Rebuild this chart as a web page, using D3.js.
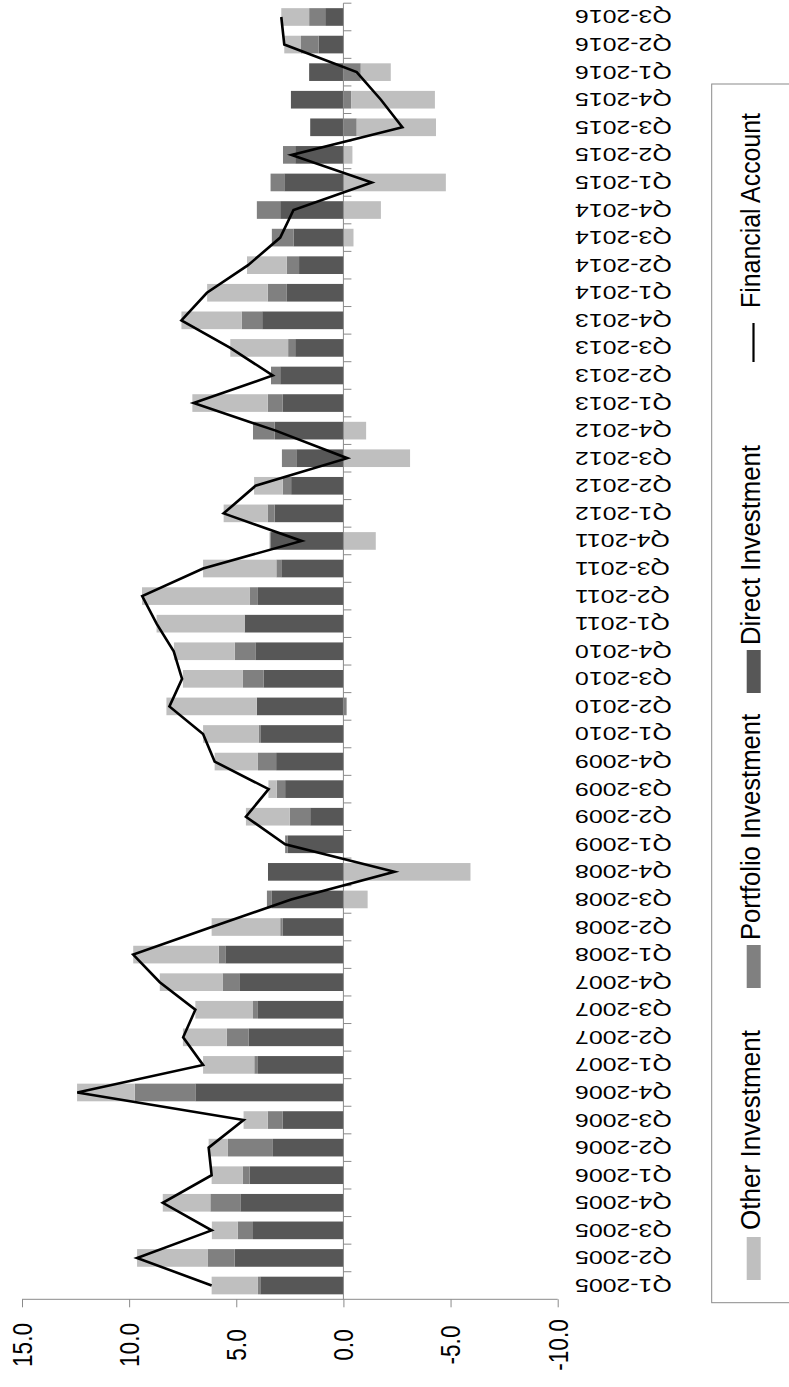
<!DOCTYPE html>
<html>
<head>
<meta charset="utf-8">
<script src="https://cdn.jsdelivr.net/npm/d3@7/dist/d3.min.js"></script>
<style>
  html, body { margin: 0; padding: 0; background: #fff; }
  svg { display: block; }
  text { font-family: "Liberation Sans", Arial, sans-serif; fill: #000; }
</style>
</head>
<body>
<svg id="chart" width="789" height="1387"></svg>
<script>
// ---------------- data (chronological) ----------------
const categories = [
  "Q1-2005","Q2-2005","Q3-2005","Q4-2005",
  "Q1-2006","Q2-2006","Q3-2006","Q4-2006",
  "Q1-2007","Q2-2007","Q3-2007","Q4-2007",
  "Q1-2008","Q2-2008","Q3-2008","Q4-2008",
  "Q1-2009","Q2-2009","Q3-2009","Q4-2009",
  "Q1-2010","Q2-2010","Q3-2010","Q4-2010",
  "Q1-2011","Q2-2011","Q3-2011","Q4-2011",
  "Q1-2012","Q2-2012","Q3-2012","Q4-2012",
  "Q1-2013","Q2-2013","Q3-2013","Q4-2013",
  "Q1-2014","Q2-2014","Q3-2014","Q4-2014",
  "Q1-2015","Q2-2015","Q3-2015","Q4-2015",
  "Q1-2016","Q2-2016","Q3-2016"
];
const directInvestment = [
  3.88, 5.08, 4.22, 4.81,
  4.38, 3.29, 2.83, 6.91,
  3.99, 4.43, 3.99, 4.86,
  5.51, 2.83, 3.34, 3.52,
  2.61, 1.55, 2.72, 3.14,
  3.85, 4.04, 3.73, 4.11,
  4.61, 3.99, 2.90, 3.39,
  3.21, 2.44, 2.20, 3.21,
  2.83, 2.95, 2.25, 3.79,
  2.64, 2.07, 2.33, 2.95,
  2.76, 2.25, 1.55, 2.45,
  1.60, 1.16, 0.85
];
const portfolioInvestment = [
  0.11, 1.26, 0.71, 1.40,
  0.31, 2.10, 0.70, 2.83,
  0.17, 1.01, 0.23, 0.78,
  0.31, 0.12, 0.23, 0.00,
  0.11, 0.95, 0.39, 0.85,
  0.11, -0.15, 0.96, 0.96,
  0.00, 0.39, 0.23, 0.05,
  0.33, 0.39, 0.67, 1.01,
  0.70, 0.43, 0.33, 0.96,
  0.89, 0.57, 1.01, 1.09,
  0.64, 0.57, -0.62, -0.36,
  -0.81, 0.82, 0.75
];
const otherInvestment = [
  2.16, 3.29, 1.21, 2.22,
  1.46, 0.90, 1.13, 2.69,
  2.39, 2.05, 2.69, 2.93,
  3.99, 3.20, -1.13, -5.93,
  0.00, 2.05, 0.39, 2.02,
  2.59, 4.22, 2.80, 2.84,
  4.11, 5.02, 3.42, -1.51,
  2.05, 1.34, -3.11, -1.06,
  3.52, 0.00, 2.70, 2.81,
  2.83, 1.86, -0.47, -1.75,
  -4.78, -0.42, -3.70, -3.91,
  -1.40, 0.78, 1.30
];
const financialAccount = [
  6.15, 9.63, 6.15, 8.43,
  6.15, 6.29, 4.66, 12.42,
  6.55, 7.48, 6.91, 8.57,
  9.81, 6.15, 2.44, -2.38,
  2.72, 4.55, 3.49, 6.01,
  6.55, 8.12, 7.53, 7.92,
  8.72, 9.39, 6.55, 1.95,
  5.59, 4.10, -0.18, 3.16,
  6.99, 3.30, 5.28, 7.56,
  6.37, 4.45, 2.95, 2.33,
  -1.32, 2.42, -2.75, -1.75,
  -0.62, 2.76, 2.90
];
const valueTicks = [15, 10, 5, 0, -5, -10];
const valueTickLabels = ["15.0", "10.0", "5.0", "0.0", "-5.0", "-10.0"];
const seriesNames = ["Direct Investment", "Portfolio Investment", "Other Investment"];
const legendNames = ["Other Investment", "Portfolio Investment", "Direct Investment", "Financial Account"];

// ---------------- styles ----------------
const colors = {
  "Direct Investment": "#575757",
  "Portfolio Investment": "#808080",
  "Other Investment": "#bfbfbf"
};
const axisColor = "#8a8a8a";

// ---------------- build ----------------
const svg = d3.select("#chart");

const x = d3.scaleLinear().domain([15, -10]).range([22, 557.7]);
const y = d3.scaleBand()
  .domain(categories.slice().reverse())
  .range([3.2, 1299.3])
  .paddingInner(0.36)
  .paddingOuter(0.18);

const rows = categories.map((c, i) => ({
  cat: c,
  "Direct Investment": directInvestment[i],
  "Portfolio Investment": portfolioInvestment[i],
  "Other Investment": otherInvestment[i]
}));

const stack = d3.stack().keys(seriesNames).offset(d3.stackOffsetDiverging);
const stacked = stack(rows);

const gBars = svg.append("g");
gBars.selectAll("g.series")
  .data(stacked)
  .join("g")
  .attr("class", "series")
  .attr("fill", d => colors[d.key])
  .selectAll("rect")
  .data(d => d)
  .join("rect")
  .attr("y", d => y(d.data.cat))
  .attr("height", y.bandwidth())
  .attr("x", d => Math.min(x(d[0]), x(d[1])))
  .attr("width", d => Math.abs(x(d[1]) - x(d[0])));

// value axis (bottom)
const axisY = y.range()[1];
const gx = svg.append("g").attr("transform", `translate(0,${axisY})`);
gx.call(d3.axisBottom(x).tickValues(valueTicks).tickSize(8).tickFormat(""));
gx.select(".domain").attr("stroke", axisColor).attr("d", `M${x(15)},0H${x(-10)}`);
gx.selectAll(".tick line").attr("stroke", axisColor);

// value tick labels (rotated)
const labelFont = 28;
svg.append("g").selectAll("text")
  .data(valueTicks)
  .join("text")
  .attr("transform", d => `translate(${x(d)},1345) rotate(-90) scale(0.807,1)`)
  .attr("text-anchor", "middle")
  .attr("dy", "0.35em")
  .attr("font-size", labelFont)
  .text((d, i) => valueTickLabels[i]);

// category axis at zero
const x0 = x(0);
const gy = svg.append("g").attr("transform", `translate(${x0},0)`);
gy.append("line")
  .attr("x1", 0).attr("x2", 0)
  .attr("y1", y.range()[0]).attr("y2", y.range()[1])
  .attr("stroke", axisColor);
const boundaries = categories.map(c => y(c) - y.step() * y.paddingInner() / 2);
gy.selectAll("line.tk")
  .data(boundaries)
  .join("line")
  .attr("class", "tk")
  .attr("x1", 0).attr("x2", 8)
  .attr("y1", d => d).attr("y2", d => d)
  .attr("stroke", axisColor);

// category labels (upside down)
svg.append("g").selectAll("text")
  .data(categories)
  .join("text")
  .attr("transform", d => `translate(575,${y(d) + y.bandwidth() / 2}) rotate(180) scale(1.336,1)`)
  .attr("text-anchor", "end")
  .attr("dy", "0.35em")
  .attr("font-size", 18.6)
  .text(d => d);

// financial account line
const line = d3.line()
  .x((d, i) => x(d))
  .y((d, i) => y(categories[i]) + y.bandwidth() / 2);
svg.append("path")
  .datum(financialAccount)
  .attr("fill", "none")
  .attr("stroke", "#000")
  .attr("stroke-width", 2.6)
  .attr("stroke-linejoin", "miter")
  .attr("d", line);

// legend
const lg = svg.append("g");
lg.append("rect")
  .attr("x", 711.7).attr("y", 84)
  .attr("width", 100).attr("height", 1302.7 - 84)
  .attr("fill", "#fff")
  .attr("stroke", axisColor);

const legendItems = [
  { name: legendNames[0], sw0: 1237, sw1: 1280, t0: 1230, len: 200, type: "rect" },
  { name: legendNames[1], sw0: 945, sw1: 988, t0: 940, len: 226, type: "rect" },
  { name: legendNames[2], sw0: 650, sw1: 693, t0: 645, len: 200, type: "rect" },
  { name: legendNames[3], sw0: 323, sw1: 362, t0: 308, len: 195, type: "line" }
];
legendItems.forEach(it => {
  if (it.type === "rect") {
    lg.append("rect")
      .attr("x", 746.7).attr("width", 14)
      .attr("y", it.sw0).attr("height", it.sw1 - it.sw0)
      .attr("fill", colors[it.name]);
  } else {
    lg.append("line")
      .attr("x1", 753.5).attr("x2", 753.5)
      .attr("y1", it.sw0).attr("y2", it.sw1)
      .attr("stroke", "#000").attr("stroke-width", 2.2);
  }
  lg.append("text")
    .attr("transform", `translate(751,${it.t0}) rotate(-90)`)
    .attr("text-anchor", "start")
    .attr("dy", "0.35em")
    .attr("font-size", 27)
    .attr("textLength", it.len)
    .attr("lengthAdjust", "spacingAndGlyphs")
    .text(it.name);
});
</script>
</body>
</html>
